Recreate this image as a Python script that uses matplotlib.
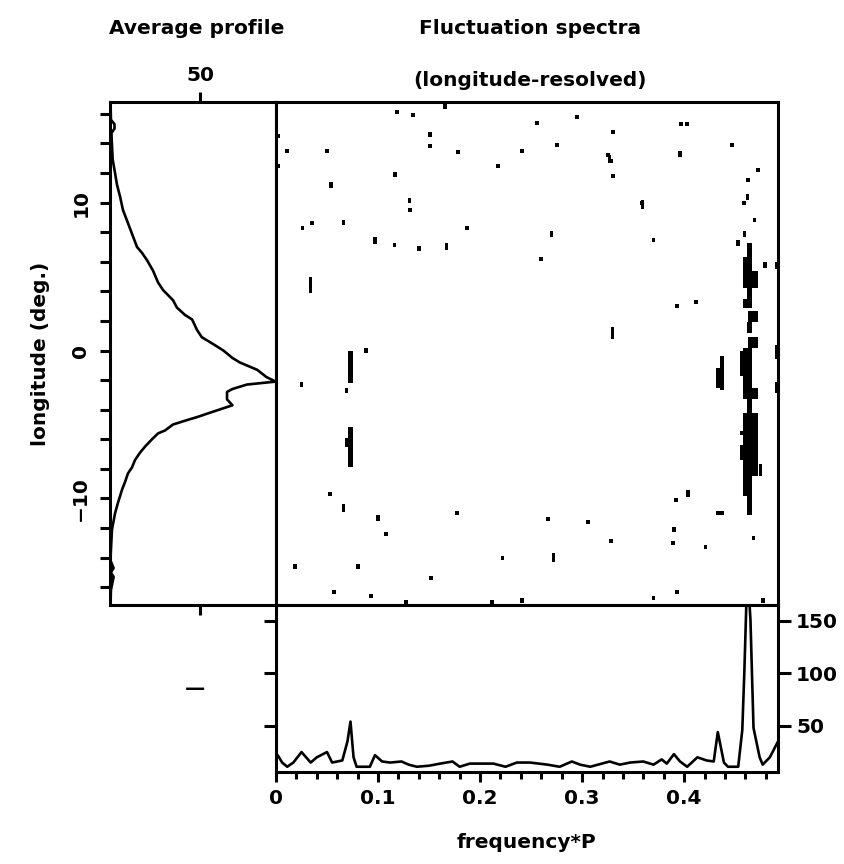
import matplotlib
matplotlib.use("Agg")
import matplotlib.pyplot as plt
from matplotlib.ticker import MultipleLocator

# average pulse profile (longitude in deg, intensity)
prof_lon = [16.8, 15.6, 15.3, 15.0, 14.7, 14.1, 12.9, 12.0, 11.2, 10.4, 9.5, 8.8, 7.9, 7.0,
            6.6, 6.1, 5.4, 4.6, 4.1, 3.4, 2.9, 2.4, 2.1, 1.4, 0.9, 0.4, 0.0, -0.5, -0.8,
            -1.3, -1.8, -2.1, -2.3, -2.6, -2.8, -3.3, -3.7, -3.9, -4.2, -4.5, -4.7, -5.0,
            -5.4, -5.6, -6.0, -6.5, -6.9, -7.4, -7.9, -8.3, -8.9, -9.4, -10.3, -11.0,
            -12.1, -13.5, -14.2, -14.7, -15.0, -15.3, -16.2, -17.2]
prof_val = [0.3, 0.5, 2.5, 2.5, 0.8, 1.0, 1.5, 2.8, 3.9, 5.6, 7.2, 9.4, 12.2, 15.0,
            17.8, 20.6, 23.9, 26.7, 29.4, 35.0, 37.2, 41.7, 45.6, 48.3, 51.0, 57.8, 63.0,
            68.0, 72.0, 81.7, 87.0, 92.0, 76.0, 68.0, 65.0, 65.0, 68.0, 63.0, 55.6, 48.3,
            42.8, 35.0, 30.6, 26.7, 23.3, 19.4, 16.7, 13.9, 12.2, 10.0, 8.3, 6.7, 4.4,
            2.8, 1.1, 0.5, 0.3, 2.0, 0.5, 2.0, 0.5, 0.3]

# integrated fluctuation spectrum
spec_f = [0.0, 0.003, 0.006, 0.011, 0.017, 0.025, 0.034, 0.040, 0.050, 0.055, 0.065,
          0.070, 0.073, 0.076, 0.079, 0.092, 0.097, 0.104, 0.112, 0.123, 0.130, 0.138,
          0.150, 0.161, 0.173, 0.180, 0.190, 0.203, 0.213, 0.225, 0.236, 0.249, 0.266,
          0.278, 0.290, 0.298, 0.308, 0.327, 0.337, 0.347, 0.360, 0.370, 0.378, 0.383,
          0.390, 0.396, 0.403, 0.413, 0.422, 0.429, 0.433, 0.439, 0.443, 0.453, 0.457,
          0.459, 0.462, 0.465, 0.468, 0.474, 0.477, 0.484, 0.492]
spec_p = [24, 20, 15, 11, 15, 25, 15, 20, 25, 15, 17, 35, 54, 20, 11, 11, 22, 16, 15, 16,
          13, 11, 12, 14, 16, 11, 14, 14, 14, 11, 15, 15, 13, 11, 16, 13, 11, 16, 13, 15,
          16, 13, 18, 14, 23, 16, 11, 20, 17, 16, 44, 15, 11, 11, 46, 101, 200, 151, 48,
          20, 13, 20, 35]

# longitude-resolved spectrum: isolated significant cells
dot_f = [0.166, 0.119, 0.134, 0.002, 0.151, 0.151, 0.011, 0.050, 0.178, 0.241, 0.002,
         0.218, 0.117, 0.131, 0.026, 0.035, 0.187, 0.140, 0.088,
         0.256, 0.295, 0.330, 0.397, 0.403, 0.275, 0.325, 0.328, 0.447, 0.330, 0.472,
         0.463, 0.459, 0.359, 0.469, 0.370, 0.260, 0.393, 0.412, 0.437,
         0.025, 0.053, 0.108, 0.177, 0.019, 0.080, 0.152, 0.222, 0.057, 0.093, 0.127,
         0.212, 0.241,
         0.392, 0.433, 0.437, 0.267, 0.306, 0.390, 0.328, 0.389, 0.421, 0.468, 0.393,
         0.370, 0.477, 0.457]
dot_lon = [16.5, 16.1, 15.9, 14.5, 14.6, 13.8, 13.5, 13.5, 13.4, 13.5, 12.5, 12.5, 11.9,
           9.5, 8.3, 8.6, 8.3, 6.9, 0.0,
           15.4, 15.8, 14.8, 15.3, 15.3, 13.9, 13.2, 12.8, 13.9, 11.8, 12.2, 11.5, 10.0,
           10.0, 8.8, 7.5, 6.2, 3.0, 3.3, -0.5,
           -2.3, -9.7, -12.4, -11.0, -14.6, -14.6, -15.4, -14.0, -16.3, -16.6, -17.0,
           -17.0, -16.9,
           -10.1, -11.0, -11.0, -11.4, -11.6, -12.1, -12.9, -13.0, -13.3, -12.7, -16.3,
           -16.7, -16.9, -5.6]

# short vertical runs of cells (one frequency bin wide)
streak_f = [0.054, 0.131, 0.066, 0.097, 0.116, 0.167, 0.034, 0.396, 0.462, 0.270,
            0.459, 0.453, 0.479, 0.491, 0.330, 0.491, 0.066, 0.100, 0.437, 0.433,
            0.491, 0.491, 0.475, 0.404, 0.272, 0.359, 0.327]
streak_top = [11.4, 10.3, 8.8, 7.7, 7.3, 7.3, 5.0, 13.5, 10.6, 8.1, 8.1, 7.5, 6.0, 6.0,
              1.6, 0.4, -10.4, -11.1, -0.6, -1.2, -0.2, -2.1, -7.7, -9.4, -13.7, 10.2,
              13.2]
streak_bot = [11.0, 10.0, 8.5, 7.2, 7.0, 6.8, 3.9, 13.1, 10.2, 7.7, 7.7, 7.1, 5.6, 5.5,
              0.8, -0.2, -10.9, -11.5, -2.7, -2.5, -0.6, -2.9, -8.5, -9.9, -14.3, 9.6,
              12.7]

# wider blocks: the 0.073 and 0.46 features
band_f0 = [0.071, 0.068, 0.071, 0.068,
           0.462, 0.458, 0.458, 0.462, 0.458, 0.463, 0.462, 0.463, 0.458, 0.455, 0.458,
           0.458, 0.462, 0.458, 0.455, 0.458, 0.458, 0.462]
band_f1 = [0.075, 0.071, 0.075, 0.071,
           0.467, 0.467, 0.472, 0.467, 0.467, 0.472, 0.467, 0.472, 0.467, 0.467, 0.467,
           0.472, 0.467, 0.472, 0.472, 0.472, 0.467, 0.467]
band_top = [0.0, -2.5, -5.2, -5.9,
            7.3, 6.3, 5.4, 4.2, 3.5, 2.7, 1.9, 0.9, 0.2, 0.0, -1.7, -2.5, -3.3, -4.2,
            -6.4, -7.4, -8.5, -9.8]
band_bot = [-2.2, -2.9, -7.9, -6.5,
            6.1, 5.4, 4.2, 3.5, 2.9, 1.9, 1.2, 0.2, -0.6, -1.7, -2.5, -3.3, -4.2, -6.5,
            -7.4, -8.5, -9.8, -11.1]

W, H = 845, 864
LW = 2.2
FS = 14.5


def fx(px):
    return px / W


def fy(py):
    return 1 - py / H


plt.rcParams['font.family'] = ['DejaVu Sans']
plt.rcParams['font.size'] = FS
plt.rcParams['font.weight'] = 'bold'
plt.rcParams['axes.labelweight'] = 'bold'

fig = plt.figure(figsize=(W / 100, H / 100), dpi=100)
ax_prof = fig.add_axes([fx(110), fy(605), fx(166), 503 / H])
ax_main = fig.add_axes([fx(276), fy(605), fx(502), 503 / H])
ax_spec = fig.add_axes([fx(276), fy(772), fx(502), 167 / H])

for ax in (ax_prof, ax_main, ax_spec):
    for sp in ax.spines.values():
        sp.set_linewidth(LW)

lon_lim = (-17.2, 16.8)

# profile panel
ax_prof.plot(prof_val, prof_lon, color='black', lw=1.9)
ax_prof.set_xlim(0, 92.2)
ax_prof.set_ylim(*lon_lim)
ax_prof.set_xticks([50])
ax_prof.set_yticks(range(-16, 17, 2))
ax_prof.set_yticklabels(['' if v % 10 else ('−10' if v < 0 else str(v)) for v in range(-16, 17, 2)],
                        rotation=90, va='center')
ax_prof.tick_params(axis='y', direction='out', length=7.2, width=LW, pad=7)
ax_prof.tick_params(axis='x', direction='out', length=7.2, width=LW, pad=5,
                    top=True, bottom=True, labeltop=True, labelbottom=False)
ax_prof.set_ylabel('longitude (deg.)', fontsize=FS, labelpad=15)

# longitude-resolved spectrum
ax_main.bar(dot_f, [0.28] * len(dot_f), bottom=[v - 0.14 for v in dot_lon],
            width=0.0038, color='black', linewidth=0)
ax_main.bar(streak_f, [t - b for t, b in zip(streak_top, streak_bot)], bottom=streak_bot,
            width=0.0035, color='black', linewidth=0)
ax_main.bar(band_f0, [t - b for t, b in zip(band_top, band_bot)], bottom=band_bot,
            width=[b - a for a, b in zip(band_f0, band_f1)], align='edge',
            color='black', linewidth=0)
ax_main.set_xlim(0, 0.492)
ax_main.set_ylim(*lon_lim)
ax_main.set_xticks([])
ax_main.set_yticks([])

# integrated spectrum
ax_spec.plot(spec_f, spec_p, color='black', lw=1.9)
ax_spec.set_xlim(0, 0.492)
ax_spec.set_ylim(6, 165)
ax_spec.set_xticks([0, 0.1, 0.2, 0.3, 0.4])
ax_spec.set_xticklabels(['0', '0.1', '0.2', '0.3', '0.4'])
ax_spec.xaxis.set_minor_locator(MultipleLocator(0.02))
ax_spec.tick_params(axis='x', which='major', direction='out', length=7.5, width=LW, pad=5)
ax_spec.tick_params(axis='x', which='minor', direction='out', length=5, width=LW)
ax_spec.set_yticks([50, 100, 150])
ax_spec.tick_params(axis='y', direction='out', length=9, width=LW, pad=4,
                    left=True, right=True, labelleft=False, labelright=True)
ax_spec.set_xlabel('frequency*P', fontsize=FS, labelpad=18)

fig.text(fx(197), fy(28), 'Average profile', ha='center', va='center', fontsize=FS)
fig.text(fx(530), fy(28), 'Fluctuation spectra', ha='center', va='center', fontsize=FS)
fig.text(fx(530), fy(80), '(longitude-resolved)', ha='center', va='center', fontsize=FS)
fig.text(fx(195), fy(688), '—', ha='center', va='center', fontsize=FS)

fig.savefig('out.png', dpi=100)
